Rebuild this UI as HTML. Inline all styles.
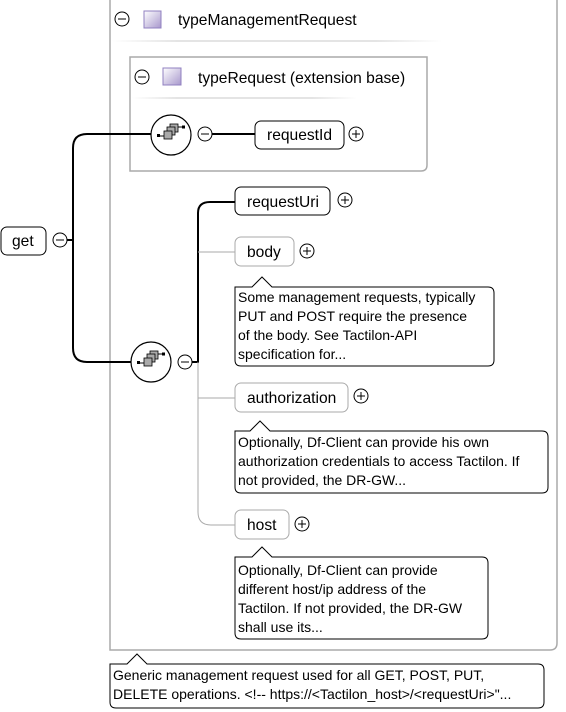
<!DOCTYPE html>
<html><head><meta charset="utf-8"><style>
html,body{margin:0;padding:0;background:#fff;}
svg{display:block;font-family:"Liberation Sans",Arial,sans-serif;}
</style></head><body>
<svg width="566" height="712" viewBox="0 0 566 712" xmlns="http://www.w3.org/2000/svg">
<defs>
<linearGradient id="sq" x1="0" y1="0" x2="1" y2="1"><stop offset="0" stop-color="#fff"/><stop offset="1" stop-color="#a898cc"/></linearGradient>
<linearGradient id="sep" x1="0" x2="1"><stop offset="0" stop-color="#fff"/><stop offset="0.2" stop-color="#e4e4e4"/><stop offset="0.8" stop-color="#e4e4e4"/><stop offset="1" stop-color="#fff"/></linearGradient>
<g id="seq"><circle r="20" fill="#fff" stroke="#000" stroke-width="1.2"/>
<rect x="-1" y="-11" width="8" height="8" fill="#aaa" stroke="#000" stroke-width="0.8"/>
<rect x="-4" y="-8" width="8" height="8" fill="#aaa" stroke="#000" stroke-width="0.8"/>
<rect x="-7" y="-4" width="8" height="8" fill="#aaa" stroke="#000" stroke-width="0.8"/>
<line x1="-12" y1="1" x2="-7" y2="1" stroke="#000"/><rect x="-14" y="-1" width="3" height="3"/>
<line x1="7" y1="-8" x2="12" y2="-8" stroke="#000"/><rect x="11" y="-9.5" width="3" height="3"/>
</g>
<g id="minus"><circle r="7" fill="#fff" stroke="#000"/><line x1="-4" y1="0" x2="4" y2="0" stroke="#000"/></g>
<g id="plus"><circle r="7" fill="#fff" stroke="#000"/><line x1="-4" y1="0" x2="4" y2="0" stroke="#000"/><line x1="0" y1="-4" x2="0" y2="4" stroke="#000"/></g>
</defs>
<path d="M110 -2 V650 H550 Q557 650 557 643 V-2" fill="none" stroke="#aaa" stroke-width="1.5"/>
<use href="#minus" x="122" y="19"/>
<rect x="144" y="11" width="17" height="17" fill="url(#sq)" stroke="#9080c0"/>
<text x="178" y="25" font-size="15.6">typeManagementRequest</text>
<rect x="112" y="40" width="330" height="2" fill="url(#sep)"/>
<path d="M130 57 H427 V165 Q427 171 421 171 H130 Z" fill="none" stroke="#aaa" stroke-width="1.5"/>
<use href="#minus" x="142" y="77"/>
<rect x="163" y="68" width="18" height="17" fill="url(#sq)" stroke="#9080c0"/>
<text x="198" y="83" font-size="15.6">typeRequest (extension base)</text>
<rect x="132" y="97" width="225" height="2" fill="url(#sep)"/>
<path d="M67 240 H73 M151 134 H87 Q73 134 73 148 V348 Q73 362 87 362 H131" fill="none" stroke="#000" stroke-width="2"/>
<rect x="1" y="227" width="45" height="28" rx="6" fill="#fff" stroke="#000"/>
<text x="12" y="246" font-size="15.6">get</text>
<use href="#minus" x="60" y="240"/>
<use href="#seq" x="171" y="135"/>
<use href="#minus" x="205" y="134"/>
<line x1="212" y1="134" x2="255" y2="134" stroke="#000" stroke-width="2"/>
<rect x="255" y="121" width="89" height="28" rx="6" fill="#fff" stroke="#000"/>
<text x="267" y="140" font-size="15.6">requestId</text>
<use href="#plus" x="356" y="134"/>
<use href="#seq" x="151" y="362"/>
<use href="#minus" x="185" y="362"/>
<path d="M192 362 H198 V213 Q198 202 210 202 H235" fill="none" stroke="#000" stroke-width="2"/>
<path d="M198 362 V512 Q198 525 211 525 H235 M198 252 H235 M198 398 H235" fill="none" stroke="#aaa" stroke-width="1"/>
<rect x="235" y="187" width="95" height="28" rx="6" fill="#fff" stroke="#000"/>
<text x="247" y="207" font-size="15.6">requestUri</text>
<use href="#plus" x="345" y="200"/>
<rect x="235" y="237" width="59" height="29" rx="6" fill="#fff" stroke="#aaa"/>
<text x="247" y="257" font-size="15.6">body</text>
<use href="#plus" x="307" y="251"/>
<path d="M235 287 H252 L262 277 L272 287 H488 Q494 287 494 293 V360 Q494 366 488 366 H241 Q235 366 235 360 Z" fill="#fff" stroke="#000"/>
<g font-size="14"><text x="238" y="302">Some management requests, typically</text><text x="238" y="321">PUT and POST require the presence</text><text x="238" y="340">of the body. See Tactilon-API</text><text x="238" y="359">specification for...</text></g>
<rect x="235" y="383" width="113" height="29" rx="6" fill="#fff" stroke="#aaa"/>
<text x="247" y="403" font-size="15.6">authorization</text>
<use href="#plus" x="361" y="396"/>
<path d="M235 431 H250 L260 421 L270 431 H542 Q548 431 548 437 V487 Q548 493 542 493 H241 Q235 493 235 487 Z" fill="#fff" stroke="#000"/>
<g font-size="14"><text x="238" y="447">Optionally, Df-Client can provide his own</text><text x="238" y="466">authorization credentials to access Tactilon. If</text><text x="238" y="485">not provided, the DR-GW...</text></g>
<rect x="235" y="510" width="54" height="29" rx="6" fill="#fff" stroke="#aaa"/>
<text x="247" y="530" font-size="15.6">host</text>
<use href="#plus" x="302" y="524"/>
<path d="M235 557 H252 L262 547 L272 557 H482 Q488 557 488 563 V633 Q488 639 482 639 H241 Q235 639 235 633 Z" fill="#fff" stroke="#000"/>
<g font-size="14"><text x="238" y="575">Optionally, Df-Client can provide</text><text x="238" y="594">different host/ip address of the</text><text x="238" y="613">Tactilon. If not provided, the DR-GW</text><text x="238" y="632">shall use its...</text></g>
<path d="M110 664 H127 L137 654 L147 664 H538 Q544 664 544 670 V702 Q544 708 538 708 H116 Q110 708 110 702 Z" fill="#fff" stroke="#000"/>
<g font-size="14"><text x="113" y="680">Generic management request used for all GET, POST, PUT,</text><text x="113" y="699">DELETE operations. &lt;!-- https://&lt;Tactilon_host&gt;/&lt;requestUri&gt;"...</text></g>
</svg>
</body></html>
